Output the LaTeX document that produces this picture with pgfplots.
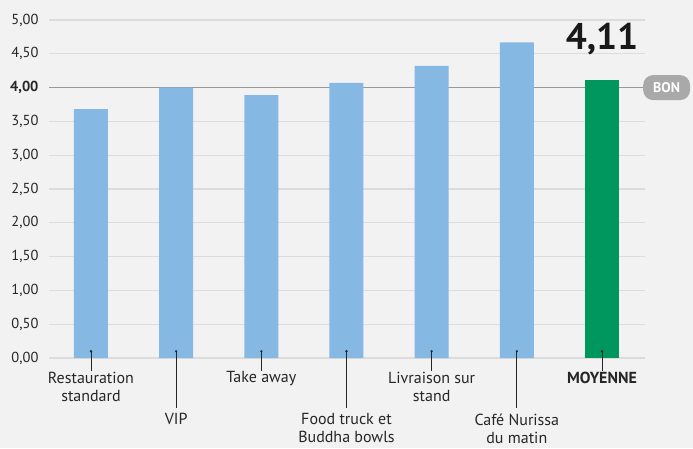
\documentclass[border=0pt]{standalone}
\usepackage{pgfplots}
\pgfplotsset{compat=1.18}
\usepackage{pgfplotstable}
\usepackage{fontspec}
\setmainfont{PT Sans}

\definecolor{bg}{HTML}{F2F2F2}
\definecolor{barblue}{HTML}{85B9E3}
\definecolor{bargreen}{HTML}{00975E}
\definecolor{txt}{HTML}{262626}
\definecolor{gridc}{HTML}{DCDCDC}
\definecolor{bongray}{HTML}{A9A9A9}

% category index, score
\pgfplotstableread{
x y
0 3.68
1 4.00
2 3.89
3 4.07
4 4.32
5 4.67
}\segments
\pgfplotstableread{
x y
6 4.11
}\average

\tikzset{
  conn/.style={txt, line width=0.8pt},
  catlab/.style={anchor=north, align=center, text=txt, font=\fontsize{16}{18}\selectfont, inner sep=0pt},
}

\begin{document}
\begin{tikzpicture}[x=1pt,y=1pt]
  \fill[bg] (0,0) rectangle (693,448);
  \path[use as bounding box] (0,0) rectangle (693,448);
  \begin{axis}[
    at={(49pt,90pt)}, anchor=south west,
    scale only axis,
    width=596pt, height=338pt,
    xmin=-0.493, xmax=6.505,
    ymin=0, ymax=5,
    clip=false,
    axis line style={draw=none},
    tick style={draw=none},
    xtick=\empty,
    ytick={0,0.5,...,5},
    yticklabels={{0,00},{0,50},{1,00},{1,50},{2,00},{2,50},{3,00},{3,50},{\bfseries 4,00},{4,50},{5,00}},
    yticklabel style={font=\fontsize{14.5}{16}\selectfont, text=txt, anchor=east, xshift=-7pt},
    ymajorgrids,
    grid style={gridc, line width=1.2pt},
    extra y ticks={4},
    extra y tick labels={},
    extra y tick style={grid style={gray!80, line width=1pt}},
  ]
    \addplot[ybar, bar width=34pt, fill=barblue, draw=none] table[x=x, y=y] {\segments};
    \addplot[ybar, bar width=34pt, fill=bargreen, draw=none,
      nodes near coords={\pgfmathprintnumber[use comma,fixed,fixed zerofill,precision=2,assume math mode=true]{\pgfplotspointmeta}},
      every node near coord/.style={font=\fontsize{37}{40}\selectfont\bfseries, text=black!90, anchor=south, yshift=22pt}]
      table[x=x, y=y] {\average};

    % connector lines and category labels
    \draw[conn] (axis cs:0,0.1) -- (axis cs:0,-0.19);
    \fill[txt] (axis cs:0,0.1) circle (1.3pt);
    \node[catlab] at (axis cs:0,-0.2) {Restauration\\standard};

    \draw[conn] (axis cs:1,0.1) -- (axis cs:1,-0.74);
    \fill[txt] (axis cs:1,0.1) circle (1.3pt);
    \node[catlab] at (axis cs:1,-0.82) {VIP};

    \draw[conn] (axis cs:2,0.1) -- (axis cs:2,-0.19);
    \fill[txt] (axis cs:2,0.1) circle (1.3pt);
    \node[catlab] at (axis cs:2,-0.2) {Take away};

    \draw[conn] (axis cs:3,0.1) -- (axis cs:3,-0.74);
    \fill[txt] (axis cs:3,0.1) circle (1.3pt);
    \node[catlab] at (axis cs:3,-0.82) {Food truck et\\Buddha bowls};

    \draw[conn] (axis cs:4,0.1) -- (axis cs:4,-0.19);
    \fill[txt] (axis cs:4,0.1) circle (1.3pt);
    \node[catlab] at (axis cs:4,-0.2) {Livraison sur\\stand};

    \draw[conn] (axis cs:5,0.1) -- (axis cs:5,-0.74);
    \fill[txt] (axis cs:5,0.1) circle (1.3pt);
    \node[catlab] at (axis cs:5,-0.82) {Café Nurissa\\du matin};

    \draw[conn] (axis cs:6,0.1) -- (axis cs:6,-0.19);
    \fill[txt] (axis cs:6,0.1) circle (1.3pt);
    \node[catlab, font=\fontsize{16}{18}\selectfont\bfseries] at (axis cs:6,-0.2) {MOYENNE};

    \node[anchor=west, fill=bongray, rounded corners=10pt, text=white,
      font=\fontsize{14}{16}\selectfont\bfseries, minimum height=25pt,
      inner xsep=10pt, xshift=-2pt]
      at (axis cs:6.505,4) {BON};
  \end{axis}
\end{tikzpicture}
\end{document}
